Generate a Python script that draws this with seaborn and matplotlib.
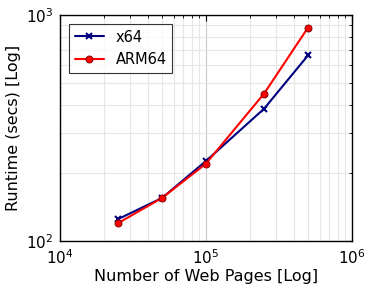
import matplotlib
matplotlib.use("Agg")
import matplotlib.pyplot as plt
import seaborn as sns
import pandas as pd
from matplotlib.ticker import LogLocator, NullFormatter, LogFormatterSciNotation
from matplotlib.lines import Line2D

pages = [25000, 50000, 100000, 250000, 500000]
x64_runtime = [125, 155, 226, 385, 663]
arm64_runtime = [120, 155, 220, 449, 880]
series_names = ["x64", "ARM64"]

df_x64 = pd.DataFrame({"pages": pages, "runtime": x64_runtime})
df_arm = pd.DataFrame({"pages": pages, "runtime": arm64_runtime})

sns.set_style("white")
plt.rcParams["font.family"] = ["DejaVu Sans"]
plt.rcParams["mathtext.default"] = "regular"
plt.rcParams["text.color"] = "black"
plt.rcParams["axes.labelcolor"] = "black"
plt.rcParams["xtick.color"] = "black"
plt.rcParams["ytick.color"] = "black"
fig = plt.figure(figsize=(3.74, 2.88), dpi=100)
ax = fig.add_axes([60/374, 1-241/288, 292/374, 226/288])

sns.lineplot(data=df_x64, x="pages", y="runtime", color="#000080", marker="x",
             markersize=5, markeredgewidth=1.5, markeredgecolor="#000080",
             linewidth=1.5, ax=ax)
sns.lineplot(data=df_arm, x="pages", y="runtime", color="#ff0000", marker="o",
             markersize=5, markeredgecolor="#800000", markeredgewidth=0.7,
             linewidth=1.5, ax=ax)

ax.set_xscale("log")
ax.set_yscale("log")
ax.set_xlim(1e4, 1e6)
ax.set_ylim(1e2, 1e3)
for axis in (ax.xaxis, ax.yaxis):
    axis.set_major_locator(LogLocator(base=10))
    axis.set_major_formatter(LogFormatterSciNotation())
    axis.set_minor_locator(LogLocator(base=10, subs=range(2, 10)))
    axis.set_minor_formatter(NullFormatter())
ax.grid(True, which="major", color="#c8c8c8", linewidth=0.8)
ax.grid(True, which="minor", color="#e6e6e6", linewidth=0.8)
ax.set_axisbelow(True)
for s in ax.spines.values():
    s.set_color("black")
    s.set_linewidth(1.0)
ax.tick_params(which="both", direction="in", top=True, right=True, labelsize=11, pad=5,
               colors="black")
ax.tick_params(which="major", length=4)
ax.tick_params(which="minor", length=2)
ax.set_xlabel("Number of Web Pages [Log]", fontsize=11.5, labelpad=2, color="black")
ax.set_ylabel("Runtime (secs) [Log]", fontsize=11.5, labelpad=3, color="black")

handles = [Line2D([], [], color="#000080", marker="x", markersize=5, markeredgewidth=1.5, lw=1.5),
           Line2D([], [], color="#ff0000", marker="o", markersize=5, markeredgecolor="#800000",
                  markeredgewidth=0.7, lw=1.5)]
leg = ax.legend(handles, series_names, loc="upper left", fontsize=10.5, frameon=True,
                fancybox=False, edgecolor="black", handlelength=2.0, borderaxespad=0.6,
                labelcolor="black")
leg.get_frame().set_linewidth(0.8)

fig.savefig("out.png", dpi=100)
